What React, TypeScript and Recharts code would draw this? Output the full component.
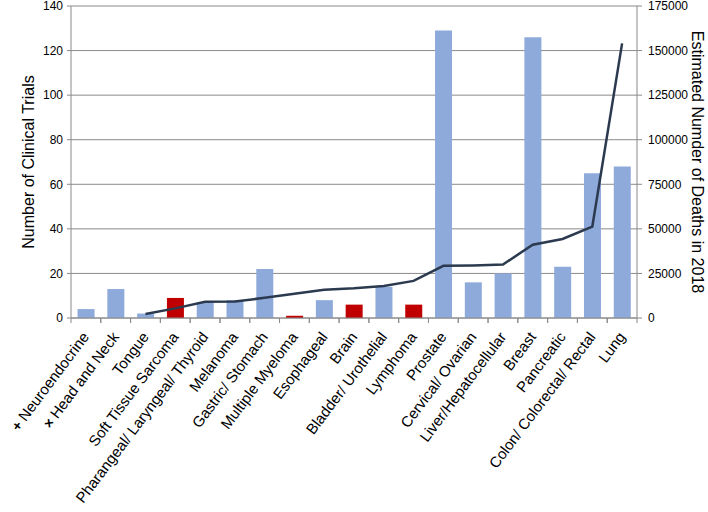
import { Bar, CartesianGrid, Cell, ComposedChart, Line, XAxis, YAxis } from 'recharts';

const categories = [
  'Neuroendocrine',
  'Head and Neck',
  'Tongue',
  'Soft Tissue Sarcoma',
  'Pharangeal/ Laryngeal/ Thyroid',
  'Melanoma',
  'Gastric/ Stomach',
  'Multiple Myeloma',
  'Esophageal',
  'Brain',
  'Bladder/ Urothelial',
  'Lymphoma',
  'Prostate',
  'Cervical/ Ovarian',
  'Liver/Hepatocellular',
  'Breast',
  'Pancreatic',
  'Colon/ Colorectal/ Rectal',
  'Lung',
];

const clinicalTrials = [4, 13, 2, 9, 7, 8, 22, 1, 8, 6, 14, 6, 129, 16, 20, 126, 23, 65, 68];

const deaths2018 = [
  null, null, 2300, 5400, 9100, 9300, 11300, 13600, 15900, 16700, 18000, 20800, 29300, 29500,
  30000, 41100, 44300, 51300, 154050,
];

const redCategories = ['Soft Tissue Sarcoma', 'Multiple Myeloma', 'Brain', 'Lymphoma'];

// little marks Excel left in front of the first two labels
const labelMarks: Record<string, string> = { Neuroendocrine: '+', 'Head and Neck': '×' };

const leftTicks = [0, 20, 40, 60, 80, 100, 120, 140];
const rightTicks = [0, 25000, 50000, 75000, 100000, 125000, 150000, 175000];

const BLUE = '#8eaadb';
const RED = '#c00000';
const LINE = '#2b3a4f';
const AXIS = '#8a8a8a';
const FONT = '"Liberation Sans", Arial, sans-serif';
const LABEL_ANGLE = -53;

const data = categories.map((name, i) => ({
  name,
  trials: clinicalTrials[i],
  deaths: deaths2018[i],
}));

function CategoryTick(props: any) {
  const { x, y, payload } = props;
  const half = payload?.offset ?? 15;
  const mark = labelMarks[payload.value];
  const ax = x + 4;
  const ay = y + 19;
  return (
    <g>
      <line x1={x - half} x2={x - half} y1={y} y2={y + 5} stroke={AXIS} />
      <line x1={x + half} x2={x + half} y1={y} y2={y + 5} stroke={AXIS} />
      <text
        x={ax}
        y={ay}
        transform={`rotate(${LABEL_ANGLE}, ${ax}, ${ay})`}
        textAnchor="end"
        fontSize={15}
        fontFamily={FONT}
        fill="#000"
      >
        {mark ? <tspan fontWeight="bold" fontSize={14}>{mark}  </tspan> : null}
        {payload.value}
      </text>
    </g>
  );
}

export default function App() {
  return (
    <div style={{ position: 'absolute', left: 0, top: 0, width: 708, height: 512, background: '#fff' }}>
      <ComposedChart
        width={708}
        height={512}
        data={data}
        margin={{ top: 6, right: 0, bottom: 0, left: 0 }}
        barCategoryGap="22%"
      >
        <CartesianGrid yAxisId="left" vertical={false} stroke={AXIS} strokeWidth={1} />
        <XAxis
          dataKey="name"
          interval={0}
          height={194}
          tickSize={0}
          tickMargin={0}
          tickLine={false}
          axisLine={{ stroke: AXIS }}
          tick={<CategoryTick />}
        />
        <YAxis
          yAxisId="left"
          width={71}
          domain={[0, 140]}
          ticks={leftTicks}
          interval={0}
          tickSize={4}
          tickMargin={4}
          axisLine={{ stroke: AXIS }}
          tickLine={{ stroke: AXIS }}
          tick={{ fontSize: 12, fontFamily: FONT, fill: '#000' }}
          label={{
            content: (p: any) => {
              const vb = p.viewBox;
              const cx = vb.x + 28;
              const cy = vb.y + vb.height / 2;
              return (
                <text
                  x={cx}
                  y={cy}
                  transform={`rotate(-90, ${cx}, ${cy})`}
                  textAnchor="middle"
                  dominantBaseline="central"
                  fontSize={16}
                  fontFamily={FONT}
                  fill="#000"
                >
                  Number of Clinical Trials
                </text>
              );
            },
          }}
        />
        <YAxis
          yAxisId="right"
          orientation="right"
          width={71}
          domain={[0, 175000]}
          ticks={rightTicks}
          interval={0}
          tickSize={5}
          tickMargin={6}
          axisLine={{ stroke: AXIS }}
          tickLine={{ stroke: AXIS }}
          tick={{ fontSize: 12, fontFamily: FONT, fill: '#000', textAnchor: 'start' }}
          label={{
            content: (p: any) => {
              const vb = p.viewBox;
              const cx = vb.x + 60;
              const cy = vb.y + vb.height / 2;
              return (
                <text
                  x={cx}
                  y={cy}
                  transform={`rotate(90, ${cx}, ${cy})`}
                  textAnchor="middle"
                  dominantBaseline="central"
                  fontSize={16}
                  fontFamily={FONT}
                  fill="#000"
                >
                  Estimated Numder of Deaths in 2018
                </text>
              );
            },
          }}
        />
        <Bar yAxisId="left" dataKey="trials" isAnimationActive={false}>
          {data.map((d) => (
            <Cell key={d.name} fill={redCategories.includes(d.name) ? RED : BLUE} />
          ))}
        </Bar>
        <Line
          yAxisId="right"
          type="linear"
          dataKey="deaths"
          stroke={LINE}
          strokeWidth={2.5}
          dot={false}
          activeDot={false}
          isAnimationActive={false}
        />
      </ComposedChart>
    </div>
  );
}
